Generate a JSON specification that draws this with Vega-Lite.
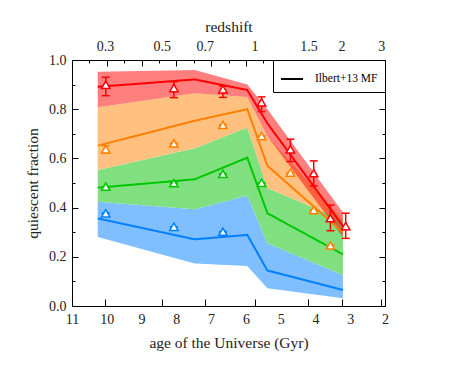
{
  "$schema": "https://vega.github.io/schema/vega-lite/v6.json",
  "width": 313,
  "height": 246,
  "autosize": {"type": "none"},
  "padding": {"left": 72, "top": 60, "right": 72, "bottom": 86},
  "background": "white",
  "config": {
    "view": {"stroke": "black", "strokeWidth": 1},
    "font": "Liberation Serif"
  },
  "datasets": {
    "bands": [
      {"bin": "10.0 < log M < 10.5", "age": 10.26, "lo": 0.28, "hi": 0.424},
      {"bin": "10.0 < log M < 10.5", "age": 7.47, "lo": 0.173, "hi": 0.393},
      {"bin": "10.0 < log M < 10.5", "age": 5.96, "lo": 0.163, "hi": 0.449},
      {"bin": "10.0 < log M < 10.5", "age": 5.38, "lo": 0.072, "hi": 0.255},
      {"bin": "10.0 < log M < 10.5", "age": 3.21, "lo": 0.031, "hi": 0.126},
      {"bin": "10.5 < log M < 11.0", "age": 10.26, "lo": 0.424, "hi": 0.553},
      {"bin": "10.5 < log M < 11.0", "age": 7.47, "lo": 0.393, "hi": 0.641},
      {"bin": "10.5 < log M < 11.0", "age": 5.96, "lo": 0.449, "hi": 0.726},
      {"bin": "10.5 < log M < 11.0", "age": 5.38, "lo": 0.255, "hi": 0.48},
      {"bin": "10.5 < log M < 11.0", "age": 3.21, "lo": 0.126, "hi": 0.35},
      {"bin": "11.0 < log M < 11.4", "age": 10.26, "lo": 0.553, "hi": 0.808},
      {"bin": "11.0 < log M < 11.4", "age": 7.47, "lo": 0.641, "hi": 0.865},
      {"bin": "11.0 < log M < 11.4", "age": 5.96, "lo": 0.726, "hi": 0.85},
      {"bin": "11.0 < log M < 11.4", "age": 5.38, "lo": 0.48, "hi": 0.69},
      {"bin": "11.0 < log M < 11.4", "age": 3.21, "lo": 0.35, "hi": 0.35},
      {"bin": "11.4 < log M < 12.0", "age": 10.26, "lo": 0.808, "hi": 0.952},
      {"bin": "11.4 < log M < 12.0", "age": 7.47, "lo": 0.865, "hi": 0.959},
      {"bin": "11.4 < log M < 12.0", "age": 5.96, "lo": 0.85, "hi": 0.9},
      {"bin": "11.4 < log M < 12.0", "age": 5.38, "lo": 0.69, "hi": 0.8},
      {"bin": "11.4 < log M < 12.0", "age": 3.21, "lo": 0.28, "hi": 0.38}
    ],
    "lines": [
      {"bin": "10.0 < log M < 10.5", "age": 10.26, "frac": 0.356},
      {"bin": "10.0 < log M < 10.5", "age": 7.47, "frac": 0.271},
      {"bin": "10.0 < log M < 10.5", "age": 5.96, "frac": 0.289},
      {"bin": "10.0 < log M < 10.5", "age": 5.38, "frac": 0.144},
      {"bin": "10.0 < log M < 10.5", "age": 3.21, "frac": 0.065},
      {"bin": "10.5 < log M < 11.0", "age": 10.26, "frac": 0.481},
      {"bin": "10.5 < log M < 11.0", "age": 7.47, "frac": 0.515},
      {"bin": "10.5 < log M < 11.0", "age": 5.96, "frac": 0.603},
      {"bin": "10.5 < log M < 11.0", "age": 5.38, "frac": 0.377},
      {"bin": "10.5 < log M < 11.0", "age": 3.21, "frac": 0.21},
      {"bin": "11.0 < log M < 11.4", "age": 10.26, "frac": 0.652},
      {"bin": "11.0 < log M < 11.4", "age": 7.47, "frac": 0.753},
      {"bin": "11.0 < log M < 11.4", "age": 5.96, "frac": 0.8},
      {"bin": "11.0 < log M < 11.4", "age": 5.38, "frac": 0.57},
      {"bin": "11.0 < log M < 11.4", "age": 3.21, "frac": 0.3},
      {"bin": "11.4 < log M < 12.0", "age": 10.26, "frac": 0.891},
      {"bin": "11.4 < log M < 12.0", "age": 7.47, "frac": 0.921},
      {"bin": "11.4 < log M < 12.0", "age": 5.96, "frac": 0.878},
      {"bin": "11.4 < log M < 12.0", "age": 5.38, "frac": 0.742},
      {"bin": "11.4 < log M < 12.0", "age": 3.21, "frac": 0.325}
    ],
    "pts": [
      {"bin": "10.0 < log M < 10.5", "age": 10.03, "frac": 0.377, "lo": 0.377, "hi": 0.377},
      {"bin": "10.0 < log M < 10.5", "age": 8.07, "frac": 0.322, "lo": 0.322, "hi": 0.322},
      {"bin": "10.0 < log M < 10.5", "age": 6.66, "frac": 0.302, "lo": 0.302, "hi": 0.302},
      {"bin": "10.5 < log M < 11.0", "age": 10.03, "frac": 0.485, "lo": 0.485, "hi": 0.485},
      {"bin": "10.5 < log M < 11.0", "age": 8.07, "frac": 0.499, "lo": 0.499, "hi": 0.499},
      {"bin": "10.5 < log M < 11.0", "age": 6.66, "frac": 0.537, "lo": 0.537, "hi": 0.537},
      {"bin": "10.5 < log M < 11.0", "age": 5.55, "frac": 0.501, "lo": 0.501, "hi": 0.501},
      {"bin": "11.0 < log M < 11.4", "age": 10.03, "frac": 0.637, "lo": 0.622, "hi": 0.652},
      {"bin": "11.0 < log M < 11.4", "age": 8.07, "frac": 0.661, "lo": 0.661, "hi": 0.661},
      {"bin": "11.0 < log M < 11.4", "age": 6.66, "frac": 0.736, "lo": 0.736, "hi": 0.736},
      {"bin": "11.0 < log M < 11.4", "age": 5.55, "frac": 0.691, "lo": 0.691, "hi": 0.691},
      {"bin": "11.0 < log M < 11.4", "age": 4.72, "frac": 0.542, "lo": 0.542, "hi": 0.542},
      {"bin": "11.0 < log M < 11.4", "age": 4.05, "frac": 0.39, "lo": 0.39, "hi": 0.39},
      {"bin": "11.0 < log M < 11.4", "age": 3.57, "frac": 0.246, "lo": 0.246, "hi": 0.246},
      {"bin": "11.4 < log M < 12.0", "age": 10.03, "frac": 0.899, "lo": 0.855, "hi": 0.93},
      {"bin": "11.4 < log M < 12.0", "age": 8.07, "frac": 0.886, "lo": 0.847, "hi": 0.912},
      {"bin": "11.4 < log M < 12.0", "age": 6.66, "frac": 0.881, "lo": 0.848, "hi": 0.894},
      {"bin": "11.4 < log M < 12.0", "age": 5.55, "frac": 0.828, "lo": 0.79, "hi": 0.85},
      {"bin": "11.4 < log M < 12.0", "age": 4.72, "frac": 0.637, "lo": 0.587, "hi": 0.678},
      {"bin": "11.4 < log M < 12.0", "age": 4.05, "frac": 0.54, "lo": 0.488, "hi": 0.59},
      {"bin": "11.4 < log M < 12.0", "age": 3.57, "frac": 0.357, "lo": 0.306, "hi": 0.41},
      {"bin": "11.4 < log M < 12.0", "age": 3.13, "frac": 0.325, "lo": 0.275, "hi": 0.377}
    ]
  },
  "resolve": {"axis": {"x": "independent", "y": "independent"}},
  "layer": [
    {
      "data": {"name": "bands"},
      "mark": {"type": "area", "opacity": 1, "interpolate": "linear"},
      "encoding": {
        "x": {
          "field": "age", "type": "quantitative",
          "scale": {"domain": [2, 11], "reverse": true, "nice": false, "zero": false},
          "axis": {
            "orient": "bottom",
            "title": "age of the Universe (Gyr)",
            "values": [2, 2.5, 3, 3.5, 4, 4.5, 5, 5.5, 6, 6.5, 7, 7.5, 8, 8.5, 9, 9.5, 10, 10.5, 11],
            "labelExpr": "datum.value % 1 === 0 ? format(datum.value, 'd') : ''",
            "ticks": false, "tickSize": 0,
            "grid": true, "gridColor": "black", "gridOpacity": 1, "gridWidth": 1,
            "gridDash": {"condition": {"test": "datum.value % 1 !== 0", "value": [3, 1000]}, "value": [6, 1000]},
            "domainColor": "black",
            "labelFont": "Liberation Serif", "labelFontSize": 14, "labelColor": "#222", "labelPadding": 6,
            "labelFlush": false, "labelOverlap": false,
            "titleFont": "Liberation Serif", "titleFontSize": 15.5, "titleFontWeight": "normal", "titleColor": "#222", "titlePadding": 9
          }
        },
        "y": {
          "field": "lo", "type": "quantitative", "stack": null,
          "scale": {"domain": [0, 1], "nice": false},
          "axis": {
            "orient": "left",
            "title": "quiescent fraction",
            "values": [0, 0.1, 0.2, 0.3, 0.4, 0.5, 0.6, 0.7, 0.8, 0.9, 1],
            "labelExpr": "round(datum.value * 10) % 2 === 0 ? format(datum.value, '.1f') : ''",
            "ticks": false, "tickSize": 0,
            "grid": true, "gridColor": "black", "gridOpacity": 1, "gridWidth": 1,
            "gridDash": {"condition": {"test": "round(datum.value * 10) % 2 !== 0", "value": [3, 1000]}, "value": [6, 1000]},
            "domainColor": "black",
            "labelFont": "Liberation Serif", "labelFontSize": 14, "labelColor": "#222", "labelPadding": 6,
            "labelFlush": false, "labelOverlap": false,
            "titleFont": "Liberation Serif", "titleFontSize": 15.5, "titleFontWeight": "normal", "titleColor": "#222", "titlePadding": 8
          }
        },
        "y2": {"field": "hi"},
        "fill": {
          "field": "bin", "type": "nominal",
          "scale": {
            "domain": ["10.0 < log M < 10.5", "10.5 < log M < 11.0", "11.0 < log M < 11.4", "11.4 < log M < 12.0"],
            "range": ["#80bfff", "#80e080", "#ffc080", "rgba(255,0,0,0.5)"]
          },
          "legend": null
        }
      }
    },
    {
      "data": {"name": "lines"},
      "mark": {"type": "line", "strokeWidth": 2, "opacity": 1},
      "encoding": {
        "x": {
          "field": "age", "type": "quantitative",
          "axis": {
            "orient": "top",
            "title": "redshift",
            "values": [10.05, 8.42, 7.18, 5.75, 4.2, 3.25, 2.11],
            "labelExpr": "datum.value > 9 ? '0.3' : datum.value > 8 ? '0.5' : datum.value > 6.5 ? '0.7' : datum.value > 5 ? '1' : datum.value > 3.8 ? '1.5' : datum.value > 2.6 ? '2' : '3'",
            "ticks": false, "tickSize": 0,
            "grid": true, "gridColor": "black", "gridOpacity": 1, "gridWidth": 1, "gridDash": [7, 1000],
            "domainColor": "black",
            "labelFont": "Liberation Serif", "labelFontSize": 14, "labelColor": "#222", "labelPadding": 7,
            "labelFlush": false, "labelOverlap": false,
            "titleFont": "Liberation Serif", "titleFontSize": 15.5, "titleFontWeight": "normal", "titleColor": "#222", "titlePadding": 5
          }
        },
        "y": {
          "field": "frac", "type": "quantitative",
          "axis": {
            "orient": "right",
            "title": null,
            "labels": false,
            "values": [0, 0.1, 0.2, 0.3, 0.4, 0.5, 0.6, 0.7, 0.8, 0.9, 1],
            "ticks": false, "tickSize": 0,
            "grid": true, "gridColor": "black", "gridOpacity": 1, "gridWidth": 1,
            "gridDash": {"condition": {"test": "round(datum.value * 10) % 2 !== 0", "value": [3, 1000]}, "value": [6, 1000]},
            "domainColor": "black"
          }
        },
        "stroke": {
          "field": "bin", "type": "nominal",
          "scale": {
            "domain": ["10.0 < log M < 10.5", "10.5 < log M < 11.0", "11.0 < log M < 11.4", "11.4 < log M < 12.0"],
            "range": ["#0080ff", "#00c800", "#ff8000", "#ff0000"]
          },
          "legend": null
        },
        "strokeDash": {
          "datum": "Ilbert+13 MF", "type": "nominal",
          "scale": {"domain": ["Ilbert+13 MF"], "range": [[1, 0]]},
          "legend": {
            "orient": "top-right", "offset": 0, "title": null,
            "symbolType": "stroke", "symbolStrokeColor": "black", "symbolStrokeWidth": 2, "symbolSize": 484,
            "labelOffset": 11, "labelFont": "Liberation Serif", "labelFontSize": 11.5, "labelColor": "black",
            "padding": 7,
            "strokeColor": "black", "fillColor": "white"
          }
        }
      }
    },
    {
      "data": {"name": "pts"},
      "mark": {"type": "rule", "strokeWidth": 1.5, "opacity": 1},
      "encoding": {
        "x": {"field": "age", "type": "quantitative", "axis": null},
        "y": {"field": "lo", "type": "quantitative", "axis": null},
        "y2": {"field": "hi"},
        "color": {
          "field": "bin", "type": "nominal",
          "scale": {
            "domain": ["10.0 < log M < 10.5", "10.5 < log M < 11.0", "11.0 < log M < 11.4", "11.4 < log M < 12.0"],
            "range": ["#0080ff", "#00c800", "#ff8000", "#ff0000"]
          },
          "legend": {
            "orient": "bottom-left", "title": null, "offset": 0,
            "padding": 7, "strokeColor": "black", "fillColor": "white"
          }
        }
      }
    },
    {
      "data": {"name": "pts"},
      "mark": {"type": "tick", "orient": "horizontal", "size": 8, "thickness": 1.5, "opacity": 1},
      "encoding": {
        "x": {"field": "age", "type": "quantitative", "axis": null},
        "y": {"field": "lo", "type": "quantitative", "axis": null},
        "color": {"field": "bin", "type": "nominal"}
      }
    },
    {
      "data": {"name": "pts"},
      "mark": {"type": "tick", "orient": "horizontal", "size": 8, "thickness": 1.5, "opacity": 1},
      "encoding": {
        "x": {"field": "age", "type": "quantitative", "axis": null},
        "y": {"field": "hi", "type": "quantitative", "axis": null},
        "color": {"field": "bin", "type": "nominal"}
      }
    },
    {
      "data": {"name": "pts"},
      "mark": {"type": "point", "shape": "triangle-up", "filled": true, "fill": "white", "size": 70, "strokeWidth": 1.5, "opacity": 1},
      "encoding": {
        "x": {"field": "age", "type": "quantitative", "axis": null},
        "y": {"field": "frac", "type": "quantitative", "axis": null},
        "stroke": {"field": "bin", "type": "nominal", "legend": null}
      }
    }
  ]
}
